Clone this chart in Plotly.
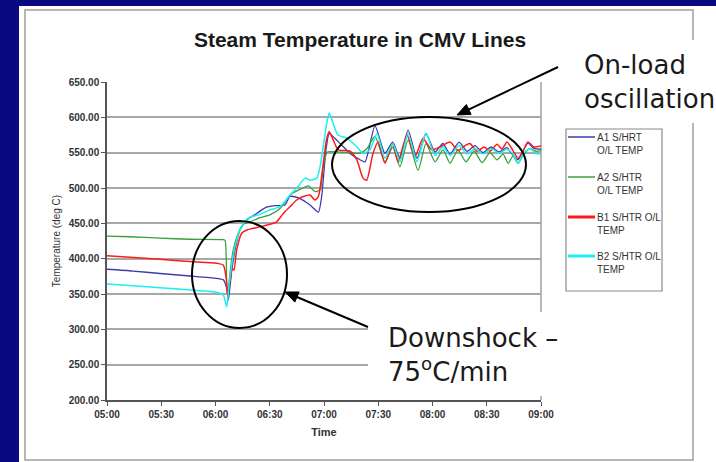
import math
import plotly.graph_objects as go

# ---------------- data (minutes after 05:00, deg C) ----------------
tick_minutes = [0, 30, 60, 90, 120, 150, 180, 210, 240]
tick_labels = ["05:00", "05:30", "06:00", "06:30", "07:00", "07:30", "08:00", "08:30", "09:00"]

a1_t = [0, 14.4, 29.3, 45.9, 60.7, 64.3, 66.2, 67.1, 69.0, 70.8, 73.5, 77.3, 82.8, 87.4, 92.9, 98.4,
        101.2, 106.7, 112.3, 116.9, 118.7, 121.1, 122.9, 126.1, 128.9, 134.4, 139.9, 142.7, 148.2,
        153.7, 158.0, 162.0, 166.5, 171.4, 176.4, 181.4, 185.8, 189.7, 194.7, 199.1, 203.5, 207.9,
        212.4, 216.8, 221.2, 224.0, 227.3, 230.0, 232.8, 236.1, 240]
a1_v = [385, 382.5, 379, 375.5, 372, 370, 358, 341.5, 384, 412.5, 440.6, 454.7, 464, 472, 475, 476,
        488, 485, 476, 466, 488, 554, 577, 570, 563, 549, 540, 537, 588,
        549, 565, 542, 582, 542, 577, 551, 563, 548, 565, 552, 560, 550,
        558, 551, 557, 548, 540, 552, 564, 556, 555]

a2_t = [0, 12.7, 29.3, 45.9, 64.3, 65.3, 66.2, 66.7, 68.0, 69.8, 72.6, 75.4, 79.1, 84.6, 90.1, 95.7,
        98.4, 101.2, 106.7, 111.3, 115.0, 117.8, 119.6, 121.8, 127.0, 134.4, 139.9, 143.8, 148.2,
        153.7, 158.0, 162.0, 166.5, 172.0, 176.4, 181.4, 185.8, 189.7, 194.1, 198.5, 203.0, 207.4,
        211.8, 215.7, 219.0, 221.8, 224.5, 227.3, 230.6, 233.9, 237.2, 240]
a2_v = [432, 431, 429, 427.5, 427, 426, 365, 351, 379, 412.5, 436, 449, 452, 458, 462, 471,
        480, 490, 498, 503, 495, 497, 530, 551, 551, 550, 549, 556, 573,
        537, 558, 530, 568, 525, 563, 537, 554, 535, 554, 537, 552, 536,
        550, 540, 548, 535, 545, 535, 548, 556, 552, 553]

b1_t = [0, 12.7, 29.3, 45.9, 60.7, 64.3, 65.8, 66.7, 68.0, 69.3, 70.2, 71.7, 74.5, 77.3, 84.6, 92.0,
        93.8, 97.5, 101.2, 104.9, 108.6, 112.3, 115.0, 116.9, 119.6, 121.5, 122.9, 125.1, 127.9,
        134.4, 138.1, 141.6, 143.6, 147.1, 149.9, 153.7, 158.0, 160.9, 165.9, 170.3, 174.7, 179.7,
        184.1, 189.7, 194.1, 198.0, 200.7, 204.6, 208.5, 211.8, 215.7, 218.4, 221.2, 224.5, 227.3,
        230.0, 232.8, 236.1, 240]
b1_v = [404, 402, 399, 396, 393.5, 391, 374.5, 348.6, 367.5, 386, 384, 412.5, 436, 440.6, 445, 450,
        452, 464, 473.5, 483, 488, 490, 483, 488, 535, 570, 580, 568, 554,
        552, 540, 514, 511, 549, 565, 535, 563, 537, 575, 544, 570, 554,
        558, 565, 553, 560, 563, 552, 558, 552, 562, 555, 565, 553, 542,
        552, 565, 558, 560]

b2_t = [0, 14.4, 29.3, 45.9, 60.7, 64.3, 66.2, 67.6, 69.5, 71.7, 75.4, 79.1, 84.0, 90.1, 95.7,
        101.2, 105.6, 109.5, 112.3, 116.0, 117.8, 121.5, 122.9, 125.0, 127.7, 132.5, 138.3, 141.6,
        145.4, 149.3, 153.7, 158.0, 162.0, 166.5, 171.4, 176.4, 181.4, 185.8, 189.7, 194.7, 199.1,
        203.5, 207.9, 212.4, 216.8, 221.2, 224.5, 227.3, 230.6, 233.9, 237.2, 240]
b2_v = [364, 361.8, 359, 355.7, 352.4, 348.6, 332, 365, 400.5, 426.4, 450, 459, 462, 469, 473.5,
        490, 502, 514, 511, 514, 530, 591, 606, 592, 575, 571, 558, 549,
        554, 577, 542, 563, 537, 577, 537, 578, 546, 558, 546, 560, 548,
        556, 548, 556, 549, 555, 548, 535, 550, 556, 549, 548]

series_names = ["A1 S/HRT<br>O/L TEMP", "A2 S/HTR<br>O/L TEMP", "B1 S/HTR O/L<br>TEMP", "B2 S/HTR O/L<br>TEMP"]
series_colors = ["#3c3ca8", "#36a03c", "#ff1a1a", "#1af0f0"]
series_widths = [1.3, 1.3, 1.5, 1.5]
legend_sample_widths = [1.5, 1.5, 3, 3]

# ---------------- layout geometry helpers (pixels -> paper) ----------------
W, H = 716, 462
L, R, T, B = 107, 541, 82, 400


def px(x):
    return (x - L) / (R - L)


def py(y):
    return (B - y) / (B - T)


def arrow_shapes(tail, tip, head_len=13, head_half=5.5):
    dx, dy = tip[0] - tail[0], tip[1] - tail[1]
    n = math.hypot(dx, dy)
    ux, uy = dx / n, dy / n
    bx, by = tip[0] - head_len * ux, tip[1] - head_len * uy
    nx, ny = -uy, ux
    c1 = (bx + head_half * nx, by + head_half * ny)
    c2 = (bx - head_half * nx, by - head_half * ny)
    line = dict(type="line", xref="paper", yref="paper", x0=px(tail[0]), y0=py(tail[1]),
                x1=px(bx + 2 * ux), y1=py(by + 2 * uy), line=dict(color="black", width=2), layer="above")
    path = "M {},{} L {},{} L {},{} Z".format(px(tip[0]), py(tip[1]), px(c1[0]), py(c1[1]),
                                              px(c2[0]), py(c2[1]))
    head = dict(type="path", xref="paper", yref="paper", path=path, fillcolor="black",
                line=dict(color="black", width=1), layer="above")
    return [line, head]


fig = go.Figure()
for (t, v), name, col, w in zip([(a1_t, a1_v), (a2_t, a2_v), (b1_t, b1_v), (b2_t, b2_v)],
                                series_names, series_colors, series_widths):
    fig.add_trace(go.Scatter(x=t, y=v, mode="lines", name=name, showlegend=False,
                             line=dict(color=col, width=w, shape="spline", smoothing=0.6)))

shapes = [
    # white slide panel
    dict(type="rect", xref="paper", yref="paper", x0=px(19), x1=px(720), y0=py(6), y1=py(470),
         fillcolor="white", line=dict(width=0), layer="below"),
    # chart-area border
    dict(type="rect", xref="paper", yref="paper", x0=px(25), x1=px(693), y0=py(10), y1=py(460),
         line=dict(color="#a0a0a0", width=1.5), layer="below"),
    # plot right border
    dict(type="line", xref="paper", yref="paper", x0=1, x1=1, y0=0, y1=1,
         line=dict(color="#a0a0a0", width=1.5), layer="below"),
    # white boxes behind callout texts
    dict(type="rect", xref="paper", yref="paper", x0=px(555), x1=px(720), y0=py(40), y1=py(123),
         fillcolor="white", line=dict(width=0), layer="above"),
    dict(type="rect", xref="paper", yref="paper", x0=px(368), x1=px(546), y0=py(312), y1=py(396),
         fillcolor="white", line=dict(width=0), layer="above"),
    # ellipses
    dict(type="circle", xref="paper", yref="paper", x0=px(192), x1=px(287), y0=py(328), y1=py(221),
         line=dict(color="black", width=2), layer="above"),
    dict(type="circle", xref="paper", yref="paper", x0=px(332), x1=px(526), y0=py(212), y1=py(117),
         line=dict(color="black", width=2), layer="above"),
    # legend box
    dict(type="rect", xref="paper", yref="paper", x0=px(566), x1=px(662), y0=py(129), y1=py(291),
         fillcolor="white", line=dict(color="#8a8a8a", width=1.2), layer="above"),
]
shapes += arrow_shapes((558, 67), (457, 115))
shapes += arrow_shapes((368, 327), (285, 292))

annotations = [
    dict(xref="paper", yref="paper", x=px(582), y=py(82), xanchor="left", yanchor="middle",
         text="On-load<br>oscillation", showarrow=False, align="left",
         font=dict(family="DejaVu Sans", size=26, color="#1a1a1a")),
    dict(xref="paper", yref="paper", x=px(386), y=py(355), xanchor="left", yanchor="middle",
         text="Downshock –<br>75<sup>o</sup>C/min", showarrow=False, align="left",
         font=dict(family="DejaVu Sans", size=26, color="#1a1a1a")),
]

# hand-drawn legend (Excel style: short sample line, two-line labels)
legend_rows_y = [137, 177, 217, 256]
for name, col, lw, ly in zip(series_names, series_colors, legend_sample_widths, legend_rows_y):
    shapes.append(dict(type="line", xref="paper", yref="paper", x0=px(568), x1=px(595),
                       y0=py(ly), y1=py(ly), line=dict(color=col, width=lw), layer="above"))
    annotations.append(dict(xref="paper", yref="paper", x=px(595), y=py(ly - 7), xanchor="left",
                            yanchor="top", text=name, showarrow=False, align="left",
                            font=dict(family="Liberation Sans", size=10, color="#333333")))

tickfont = dict(family="Liberation Sans", size=10, color="#333333", weight="bold")

fig.update_layout(
    width=W, height=H,
    margin=dict(l=L, r=W - R, t=T, b=H - B, autoexpand=False),
    paper_bgcolor="#0a0a80",
    plot_bgcolor="white",
    showlegend=False,
    hovermode=False,
    title=dict(text="<b>Steam Temperature in CMV Lines</b>", xref="paper", x=px(360), xanchor="center",
               yref="container", y=1 - 40 / H, yanchor="middle",
               font=dict(family="Liberation Sans", size=21, color="#1a1a1a")),
    xaxis=dict(range=[0, 240], tickvals=tick_minutes, ticktext=tick_labels, showgrid=False,
               showline=True, linecolor="#555555", linewidth=1.5, ticks="outside", ticklen=4,
               tickcolor="#555555", tickfont=tickfont, zeroline=False,
               title=dict(text="<b>Time</b>", standoff=10,
                          font=dict(family="Liberation Sans", size=11, color="#333333"))),
    yaxis=dict(range=[200, 650], dtick=50, tickformat=".2f", showgrid=True, gridcolor="#a8a8a8",
               gridwidth=1.5, showline=True, linecolor="#555555", linewidth=1.5, ticks="outside",
               ticklen=4, tickcolor="#555555", tickfont=tickfont, zeroline=False,
               title=dict(text="Temperature (deg C)", standoff=6,
                          font=dict(family="Liberation Sans", size=10, color="#333333"))),
    shapes=shapes,
    annotations=annotations,
)

fig.write_html("out.html", config={"displayModeBar": False},
               post_script="document.body.style.margin='0px';")
